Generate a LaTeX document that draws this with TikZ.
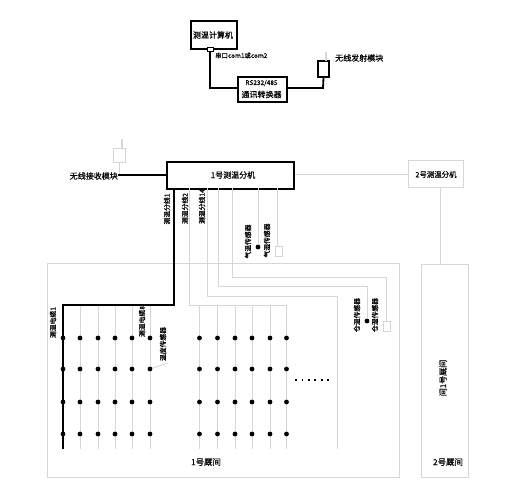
\documentclass[tikz,border=0pt]{standalone}
\usepackage{fontspec}
\setmainfont[FakeBold=0.5]{Noto Sans CJK SC}
\definecolor{faint}{HTML}{D6D6D6}
\tikzset{
  x=1pt,y=-1pt,
  thickbox/.style={draw=black,line width=1.9pt,fill=white,inner sep=0pt,anchor=north west,align=center},
  faintbox/.style={draw=faint,line width=0.9pt,fill=white,inner sep=0pt,anchor=north west},
  heavy/.style={draw=black,line width=1.8pt,line join=miter},
  faintline/.style={draw=faint,line width=0.9pt},
  lbl/.style={inner sep=0pt,font=\fontsize{8}{9}\selectfont,text=black},
  small/.style={inner sep=0pt,font=\fontsize{6.8}{8}\selectfont,text=black,rotate=90},
  dotn/.style={circle,fill=black,inner sep=0pt,minimum size=4.8pt},
}
\begin{document}
\begin{tikzpicture}
\useasboundingbox (0,0) rectangle (518,500);
% rooms
\node[faintbox,minimum width=352pt,minimum height=214pt] (room1) at (47,263) {};
\node[faintbox,minimum width=47pt,minimum height=213pt] (room2) at (420.5,264) {};
\node[lbl,font=\fontsize{8.4}{9}\selectfont] (room1t) at (206,462) {1号厩间};
\node[lbl,font=\fontsize{8.4}{9}\selectfont] (room2t) at (448,462) {2号厩间};
\node[lbl,rotate=90,font=\fontsize{8}{9}\selectfont] (room2v) at (443,378) {间1号厩间};
% top group
\node[thickbox,minimum width=46pt,minimum height=28pt] (pc) at (190,20) {};
\node[lbl] (pct) at (213,35) {测温计算机};
\node[draw=black,line width=1pt,fill=white,minimum width=6pt,minimum height=4pt,inner sep=0pt] (port) at (210,50) {};
\node[thickbox,minimum width=49pt,minimum height=25pt] (conv) at (237,76) {};
\node[lbl] (convt1) at (261.5,83) {\fontsize{6.5}{8}\selectfont RS232/485};
\node[lbl] (convt2) at (261.5,94.5) {通讯转换器};
\node[draw=black,line width=1.4pt,fill=white,minimum width=11pt,minimum height=16pt,inner sep=0pt] (tx) at (323.5,69) {};
\node[lbl,anchor=west] (txt) at (335,58) {无线发射模块};
\node[lbl,anchor=west,font=\fontsize{6.4}{8}\selectfont] (com) at (215,55.5) {串口com1或com2};
\coordinate (txant) at (326,52);
\coordinate (txanb) at (326,61);
\draw[faintline,line width=1.2pt] (txant) -- (txanb);
\coordinate (c1) at (210,88);
\coordinate (c2) at (323,88);
\draw[heavy] (port.south) -- (c1) -- (conv.west |- c1);
\draw[heavy] (conv.east |- c2) -- (c2) -- (tx.south);
% station row
\node[thickbox,minimum width=127pt,minimum height=27pt] (s1) at (166,161) {};
\node[lbl] (s1t) at (233,175) {1号测温分机};
\node[faintbox,minimum width=55pt,minimum height=27pt] (s2) at (408,160) {};
\node[lbl,font=\fontsize{7.4}{9}\selectfont] (s2t) at (436,174.5) {2号测温分机};
\draw[faintline] (s1.east |- s2.west) -- (s2.west);
\coordinate (s2d) at (440,187);
\coordinate (r2u) at (440,264);
\draw[faintline] (s2d) -- (r2u);
\node[lbl,anchor=east] (rxt) at (118,176) {无线接收模块};
\node[draw=faint,line width=0.9pt,fill=white,minimum width=12pt,minimum height=14pt,inner sep=0pt] (rx) at (119,155) {};
\coordinate (rxstem) at (119,175);
\draw[faintline] (rx.south) -- (rxstem);
\coordinate (rxant) at (122,139);
\coordinate (rxanb) at (122,148);
\draw[faintline,line width=1.2pt] (rxant) -- (rxanb);
\draw[heavy] (rxt.east |- rxstem) -- (s1.west |- rxstem);
% main heavy bus
\coordinate (b0) at (174,188);
\coordinate (b1) at (174,305);
\coordinate (b2) at (63,305);
\coordinate (b3) at (63,449);
% faint branch lines
\coordinate (t1) at (189,188);
\coordinate (h1) at (189,305);
\coordinate (h1e) at (287,305);
\draw[faintline] (t1) -- (h1) -- (h1e);
\coordinate (t2) at (207,188);
\coordinate (h2) at (207,296);
\coordinate (h2e) at (337,296);
\coordinate (h2b) at (337,449);
\draw[faintline] (t2) -- (h2) -- (h2e) -- (h2b);
\coordinate (t3) at (218,188);
\coordinate (h3) at (218,286);
\coordinate (h3e) at (367,286);
\node[dotn] (d31) at (367,321) {};
\draw[faintline] (t3) -- (h3) -- (h3e) -- (d31);
\coordinate (t4) at (232,188);
\coordinate (h4) at (232,277);
\coordinate (h4e) at (386,277);
\node[faintbox,minimum width=7pt,minimum height=10pt] (hs2) at (383,321) {};
\draw[faintline] (t4) -- (h4) -- (h4e) -- (hs2.north -| h4e);
\coordinate (t5) at (258,188);
\node[dotn] (d5) at (258,247) {};
\draw[faintline] (t5) -- (d5);
\coordinate (t6) at (277,188);
\node[faintbox,minimum width=7pt,minimum height=10pt] (hs1) at (275,246) {};
\draw[faintline] (t6) -- (hs1.north -| t6);
% sensor grids
\foreach \n/\x in {a1/80,a2/98,a3/115,a4/132,a5/150,g1/199.5,g2/217.5,g3/235,g4/252,g5/270,g6/286.5}{
  \coordinate (\n t) at (\x,305);
  \coordinate (\n b) at (\x,449);
  \draw[faintline] (\n t) -- (\n b);
  \foreach \r/\y in {1/338,2/369,3/402,4/434}{
    \node[dotn] (\n r\r) at (\x,\y) {};
  }
}
\draw[heavy] (b0) -- (b1) -- (b2) -- (b3);
\foreach \r/\y in {1/338,2/369,3/402,4/434}{
  \node[dotn] (a0r\r) at (63,\y) {};
}
\coordinate (lead) at (168,363);
\draw[faintline] (a5r2) -- (lead);
% ellipsis
\foreach \i in {0,...,5}{
  \node[fill=black,minimum size=1.8pt,inner sep=0pt] (e\i) at (296+6.4*\i,380) {};
}
% rotated labels
\node[small] (l1) at (167,209) {测温分线1};
\node[small] (l2) at (185,208.5) {测温分线2};
\node[small] (l3) at (202,206.5) {测温分线14};
\node[small] (l4) at (248,241.5) {气温传感器};
\node[small] (l5) at (267,240.5) {气湿传感器};
\node[small] (l6) at (357,315) {仓温传感器};
\node[small] (l7) at (375,315) {仓湿传感器};
\node[small] (l8) at (53,322.5) {测温电缆1};
\node[small] (l9) at (142,321.5) {测温电缆8};
\node[small] (l10) at (163,344) {温度传感器};
\end{tikzpicture}
\end{document}
